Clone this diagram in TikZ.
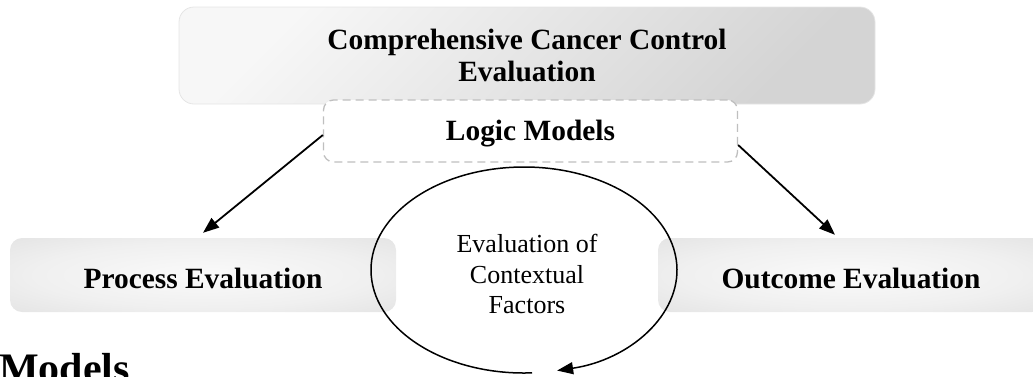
\documentclass[tikz,border=0pt]{standalone}
\usepackage{fontspec}
\setmainfont{Liberation Serif}
\usetikzlibrary{arrows.meta}

% soft glow: light centre fading to grey at the box edges
\pgfdeclareradialshading{boxglow}{\pgfpoint{0bp}{0bp}}{%
  color(0bp)=(black!2); color(22bp)=(black!6);
  color(50bp)=(black!15); color(100bp)=(black!15)}

\tikzset{
  boxlabel/.style={font=\bfseries\fontsize{29.4}{32}\selectfont, align=center},
  topbox/.style={boxlabel, rounded corners=15pt, top color=black!3, bottom color=black!17,
    shading angle=45, draw=black!10, line width=0.8pt,
    minimum width=696pt, minimum height=97pt, inner sep=0pt},
  sidebox/.style={boxlabel, rounded corners=12pt, shade, shading=boxglow,
    minimum width=386pt, minimum height=74pt, inner sep=0pt, text height=26pt, text depth=0pt},
  dashbox/.style={boxlabel, rounded corners=10pt, fill=white, draw=black!25, line width=1.3pt,
    dash pattern=on 8pt off 5pt, minimum width=414pt, minimum height=62pt, inner sep=0pt,
    text height=24pt, text depth=6pt},
  ctxlabel/.style={font=\fontsize{26}{30.5}\selectfont, align=center},
  flow/.style={line width=1.8pt, -{Triangle[length=16pt, width=12pt]}},
  cycle/.style={line width=1.5pt, -{Triangle[length=16pt, width=12pt]}},
}

\begin{document}
\begin{tikzpicture}[x=1pt, y=-1pt]
\useasboundingbox (0,0) rectangle (1033,376);

% boxes
\node[topbox] (title) at (527,55.5) {Comprehensive Cancer Control\\Evaluation};
\node[dashbox] (logic) at (530.5,131) {Logic Models};
\node[sidebox] (proc) at (203,275) {Process Evaluation};
\node[sidebox] (outc) at (851,275) {Outcome Evaluation};

% contextual factors loop
\coordinate (ctxc) at (524,270);
\node[ctxlabel] (ctx) at (527,274) {Evaluation of\\Contextual\\Factors};
\draw[cycle] (ctxc) ++(87:153 and 103)
  arc[start angle=87, end angle=437.5, x radius=153, y radius=103];

% connectors
\draw[flow] ([yshift=-4pt]logic.west) -- ([yshift=5pt]proc.north);
\draw[flow] ([yshift=-14pt]logic.east) -- ([xshift=-16pt,yshift=3pt]outc.north);

% heading below, cut by the page edge
\node[font=\bfseries\fontsize{42}{44}\selectfont, anchor=base west, inner sep=0pt]
  (models) at (-1,382) {Models};
\end{tikzpicture}
\end{document}
